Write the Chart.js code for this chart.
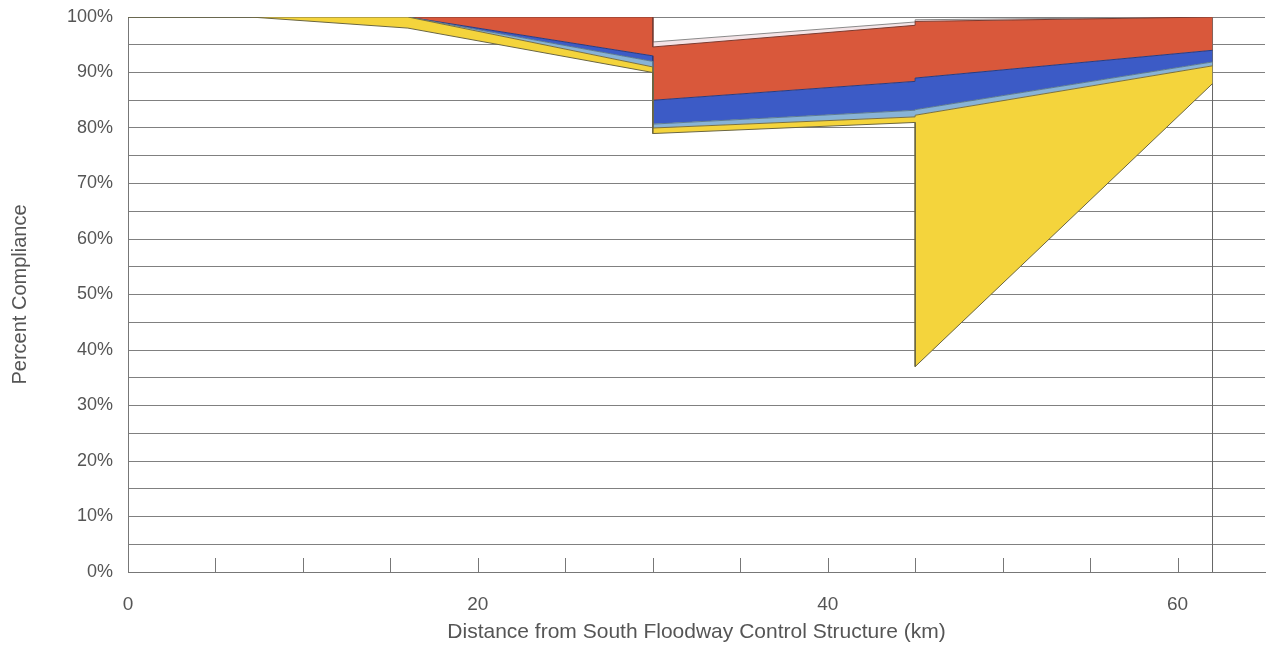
<!DOCTYPE html>
<html>
<head>
<meta charset="utf-8">
<script src="https://cdn.jsdelivr.net/npm/chart.js@4/dist/chart.umd.min.js"></script>
<style>
  body { margin: 0; background: #fff; }
</style>
</head>
<body>
<canvas id="grafico" width="1270" height="645"></canvas>
<script>
// distance along the floodway (km), two points at 30 and 45 for the jumps
const distances = [0, 7, 16, 30, 30, 45, 45, 62];

// share of each class (%), stacked from the bottom
const compliant   = [100, 100, 98, 90, 79, 81, 37, 88];
const classYellow = [0, 0, 2, 1, 1, 1, 45.3, 3.2];
const classLtBlue = [0, 0, 0, 1, 0.7, 1.2, 1, 0.7];
const classBlue   = [0, 0, 0, 1, 4.3, 5.2, 5.7, 2.1];
const classRed    = [0, 0, 0, 7, 9.6, 10.1, 10.2, 6];
const classPink   = [0, 0, 0, 0, 0.9, 0.6, 0.3, 0];

const xTickLabels = [0, 20, 40, 60];
const yTickLabels = [0, 10, 20, 30, 40, 50, 60, 70, 80, 90, 100];

const layers = [
    { label: 'Compliant', values: compliant, fill: false, bg: 'rgba(0,0,0,0)', border: '#6b6640' },
    { label: 'Yellow', values: classYellow, fill: '-1', bg: '#f4d43c', border: '#7a7040' },
    { label: 'Light blue', values: classLtBlue, fill: '-1', bg: '#88b3d6', border: '#5b7a92' },
    { label: 'Blue', values: classBlue, fill: '-1', bg: '#3c5bc6', border: '#2b3b7c' },
    { label: 'Red', values: classRed, fill: '-1', bg: '#d9583b', border: '#7c3b30' },
    { label: 'Pink', values: classPink, fill: '-1', bg: '#f4e4e7', border: '#8a8a8a' }
];

// cumulative tops of each layer
let running = distances.map(() => 0);
const datasets = layers.map(l => {
    running = running.map((r, i) => r + l.values[i]);
    return {
        label: l.label,
        data: distances.map((x, i) => ({ x: x, y: running[i] })),
        fill: l.fill,
        backgroundColor: l.bg,
        borderColor: l.border,
        borderWidth: 1,
        pointRadius: 0,
        tension: 0
    };
});

// right edge of the stacked areas
const lastX = distances[distances.length - 1];
datasets.push({
    label: 'edge',
    data: [{ x: lastX, y: 0 }, { x: lastX, y: 100 }],
    fill: false,
    borderColor: '#666',
    borderWidth: 1,
    pointRadius: 0
});

// small tick marks inside the plot along the x axis
const innerTicks = {
    id: 'innerTicks',
    afterDraw(chart) {
        const sx = chart.scales.x;
        const bottom = chart.chartArea.bottom;
        const c = chart.ctx;
        c.save();
        c.strokeStyle = '#777';
        c.lineWidth = 1;
        for (let v = 5; v <= 60; v += 5) {
            const px = Math.round(sx.getPixelForValue(v)) + 0.5;
            c.beginPath();
            c.moveTo(px, bottom - 14);
            c.lineTo(px, bottom);
            c.stroke();
        }
        c.restore();
    }
};

const ctx = document.getElementById('grafico').getContext('2d');
new Chart(ctx, {
    type: 'line',
    data: { datasets: datasets },
    plugins: [innerTicks],
    options: {
        responsive: false,
        animation: false,
        layout: { padding: { top: 17, right: 5, left: 0, bottom: 0 } },
        plugins: { legend: { display: false }, tooltip: { enabled: false } },
        scales: {
            x: {
                type: 'linear',
                min: 0,
                max: 65,
                grid: { drawOnChartArea: false, drawTicks: false },
                border: { display: true, color: '#777' },
                ticks: {
                    stepSize: 5,
                    autoSkip: false,
                    maxRotation: 0,
                    padding: 21,
                    color: '#555',
                    font: { family: 'Liberation Sans, Arial', size: 19 },
                    callback: v => xTickLabels.includes(v) ? String(v) : ''
                },
                title: {
                    display: true,
                    text: 'Distance from South Floodway Control Structure (km)',
                    color: '#555',
                    font: { family: 'Liberation Sans, Arial', size: 21 },
                    padding: { top: 0, bottom: 0 }
                },
                afterFit(scale) {
                    scale.height = 73;
                    scale.paddingLeft = 0;
                    scale.paddingRight = 0;
                }
            },
            y: {
                min: 0,
                max: 100,
                grid: { color: '#808080', lineWidth: 1, drawTicks: false },
                border: { display: true, color: '#777' },
                ticks: {
                    stepSize: 5,
                    padding: 15,
                    color: '#555',
                    font: { family: 'Liberation Sans, Arial', size: 18 },
                    callback: v => yTickLabels.includes(v) ? v + '%' : ''
                },
                title: {
                    display: true,
                    text: 'Percent Compliance',
                    color: '#555',
                    font: { family: 'Liberation Sans, Arial', size: 20 },
                    padding: { top: 8, bottom: 0 }
                },
                afterFit(scale) {
                    scale.width = 128;
                    scale.paddingTop = 0;
                    scale.paddingBottom = 0;
                }
            }
        }
    }
});
</script>
</body>
</html>
